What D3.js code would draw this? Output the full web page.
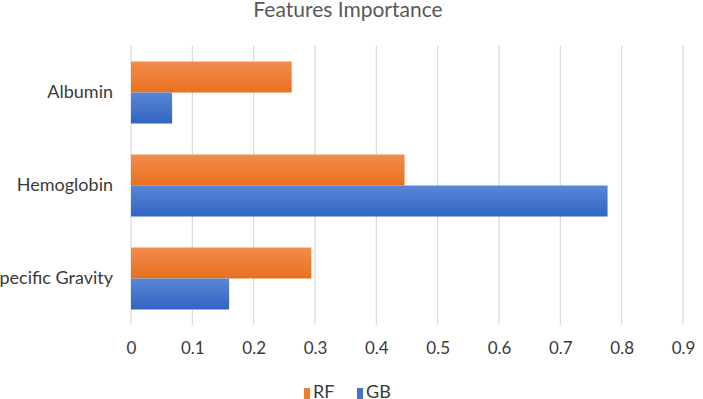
<!DOCTYPE html>
<html>
<head>
<meta charset="utf-8">
<script src="https://cdn.jsdelivr.net/npm/d3@7"></script>
<style>
  body { margin: 0; background: #fff; }
  svg { display: block; font-family: Lato, "Open Sans", sans-serif; }
</style>
</head>
<body>
<div id="chart"></div>
<script>
const categories = ["Albumin", "Hemoglobin", "Specific Gravity"];
const seriesNames = ["RF", "GB"];
const rfValues = [0.262, 0.446, 0.294];
const gbValues = [0.067, 0.777, 0.160];
const xTicks = [0, 0.1, 0.2, 0.3, 0.4, 0.5, 0.6, 0.7, 0.8, 0.9];

const width = 703, height = 399;
const margin = {top: 46, right: 20, bottom: 74, left: 131};

const svg = d3.select("#chart").append("svg")
    .attr("width", width)
    .attr("height", height);

const defs = svg.append("defs");
const grads = [
    {id: "grad-rf", top: "#f28c4c", bottom: "#e8701f"},
    {id: "grad-gb", top: "#5a86d6", bottom: "#3264c2"}
];
grads.forEach(g => {
    const lg = defs.append("linearGradient")
        .attr("id", g.id).attr("x1", 0).attr("y1", 0).attr("x2", 0).attr("y2", 1);
    lg.append("stop").attr("offset", "0%").attr("stop-color", g.top);
    lg.append("stop").attr("offset", "100%").attr("stop-color", g.bottom);
});
const colors = {RF: "url(#grad-rf)", GB: "url(#grad-gb)"};
const legendColors = {RF: "#ed7d31", GB: "#4472c4"};

const xScale = d3.scaleLinear()
    .domain([0, 0.9])
    .range([margin.left, 683]);

const yScale = d3.scaleBand()
    .domain(categories)
    .range([margin.top, height - margin.bottom])
    .paddingInner(1 / 3)
    .paddingOuter(1 / 6);

const inner = d3.scaleBand()
    .domain(seriesNames)
    .range([0, yScale.bandwidth()]);

// title
svg.append("text")
    .attr("x", 348)
    .attr("y", 17)
    .attr("text-anchor", "middle")
    .attr("font-size", 21)
    .attr("fill", "#595959")
    .text("Features Importance");

// gridlines
svg.append("g")
    .selectAll("line")
    .data(xTicks)
    .enter()
    .append("line")
    .attr("x1", d => xScale(d))
    .attr("x2", d => xScale(d))
    .attr("y1", margin.top)
    .attr("y2", height - margin.bottom)
    .attr("stroke", "#d9d9d9")
    .attr("stroke-width", 1.2);

// bars
const rows = categories.map((c, i) => ({cat: c, RF: rfValues[i], GB: gbValues[i]}));

const groups = svg.append("g")
    .selectAll("g")
    .data(rows)
    .enter()
    .append("g")
    .attr("transform", d => `translate(0, ${yScale(d.cat)})`);

groups.selectAll("rect")
    .data(d => seriesNames.map(s => ({series: s, value: d[s]})))
    .enter()
    .append("rect")
    .attr("x", xScale(0))
    .attr("y", d => inner(d.series))
    .attr("width", d => xScale(d.value) - xScale(0))
    .attr("height", inner.bandwidth())
    .attr("fill", d => colors[d.series]);

// x axis labels
const xAxis = d3.axisBottom(xScale)
    .tickValues(xTicks)
    .tickSize(0)
    .tickPadding(0)
    .tickFormat(d => d3.format("")(+d.toFixed(1)));

const gx = svg.append("g")
    .attr("transform", `translate(0, 342)`)
    .call(xAxis);
gx.select(".domain").remove();
gx.selectAll("text")
    .attr("font-size", 17)
    .attr("font-family", "Lato, sans-serif")
    .attr("fill", "#3a3a3a")
    .attr("dy", "0.72em");

// y axis labels
const yAxis = d3.axisLeft(yScale)
    .tickSize(0)
    .tickPadding(18);

const gy = svg.append("g")
    .attr("transform", `translate(${margin.left}, 0)`)
    .call(yAxis);
gy.select(".domain").remove();
gy.selectAll("text")
    .attr("font-size", 18)
    .attr("font-family", "Lato, sans-serif")
    .attr("fill", "#3a3a3a");

// legend
const legendX = {RF: 304, GB: 357};
const legend = svg.append("g");
seriesNames.forEach(s => {
    legend.append("rect")
        .attr("x", legendX[s])
        .attr("y", 388)
        .attr("width", 6)
        .attr("height", 11)
        .attr("fill", legendColors[s]);
    legend.append("text")
        .attr("x", legendX[s] + 9)
        .attr("y", 398)
        .attr("font-size", 18)
        .attr("fill", "#3a3a3a")
        .text(s);
});
</script>
</body>
</html>
